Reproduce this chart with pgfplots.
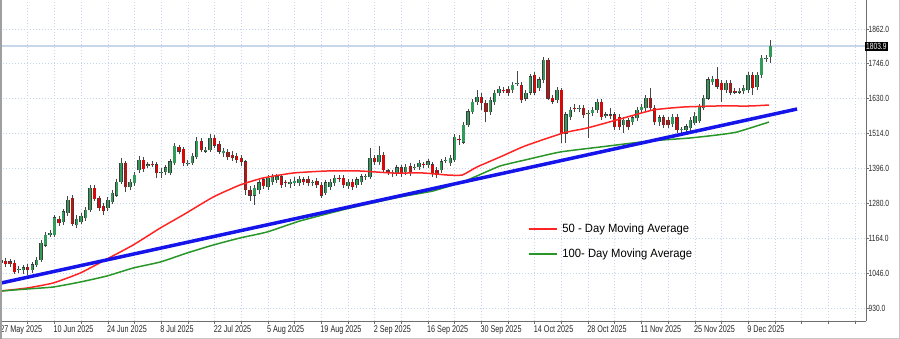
\documentclass[border=0pt]{standalone}
\usepackage{pgfplots}
\usepackage{pgfplotstable}
\pgfplotsset{compat=1.18}
\usepackage{fontspec}
\setmainfont{Liberation Sans}
\newfontfamily\tickfont[FakeStretch=0.74]{Liberation Sans}
\newfontfamily\legendfont[FakeStretch=0.94]{Liberation Sans}
\definecolor{gridblue}{RGB}{196,212,238}
\definecolor{priceline}{RGB}{200,214,234}
\definecolor{axisgray}{RGB}{110,110,110}
\definecolor{candlegreen}{RGB}{50,155,90}
\definecolor{candlered}{RGB}{210,10,10}
\definecolor{candleedge}{RGB}{60,60,60}
\definecolor{wick}{RGB}{70,70,70}
\definecolor{maRed}{RGB}{255,35,35}
\definecolor{maGreen}{RGB}{40,150,40}
\definecolor{trendBlue}{RGB}{20,20,235}

\pgfplotstableread{
x o h l c
4 1057 1070 1047 1060
5 1057 1074 1044 1064
7 1057 1084 1047 1074
8 1074 1100 1067 1090
9 1090 1157 1084 1147
10 1140 1184 1134 1174
11 1174 1191 1167 1180
12 1174 1241 1167 1231
14 1217 1261 1207 1251
15 1247 1304 1237 1291
17 1207 1241 1197 1227
18 1217 1247 1211 1237
19 1231 1267 1221 1257
20 1257 1341 1251 1331
24 1264 1301 1254 1291
25 1284 1324 1277 1314
26 1307 1361 1301 1351
27 1351 1431 1344 1414
29 1334 1361 1324 1351
30 1348 1384 1338 1374
31 1391 1438 1381 1424
33 1404 1418 1398 1408
36 1381 1398 1364 1384
37 1384 1408 1374 1398
38 1381 1428 1374 1418
39 1414 1481 1408 1471
42 1411 1424 1404 1414
43 1414 1448 1408 1438
44 1434 1501 1428 1488
46 1454 1468 1448 1458
47 1458 1511 1451 1498
50 1448 1464 1434 1454
57 1307 1341 1274 1331
58 1324 1358 1311 1348
60 1334 1374 1324 1364
61 1351 1378 1341 1368
62 1358 1378 1348 1368
65 1344 1361 1331 1351
66 1348 1368 1338 1354
67 1348 1371 1338 1361
70 1348 1358 1338 1351
73 1314 1358 1307 1348
74 1334 1361 1324 1351
75 1348 1374 1338 1364
78 1338 1361 1328 1351
80 1341 1368 1331 1358
81 1351 1378 1341 1368
82 1368 1378 1358 1371
83 1368 1464 1361 1431
85 1418 1471 1408 1441
88 1381 1391 1368 1384
89 1381 1408 1371 1398
91 1384 1411 1374 1401
93 1398 1411 1391 1401
94 1401 1424 1391 1414
96 1408 1428 1398 1418
99 1391 1428 1381 1418
100 1421 1434 1414 1424
101 1414 1441 1404 1431
102 1424 1511 1418 1501
104 1484 1551 1478 1541
105 1541 1595 1535 1585
106 1585 1628 1578 1618
107 1618 1658 1608 1635
110 1585 1635 1575 1625
111 1618 1658 1608 1648
112 1648 1671 1638 1661
115 1658 1685 1648 1675
116 1678 1722 1671 1681
118 1631 1658 1621 1648
119 1651 1712 1641 1702
121 1665 1702 1655 1692
122 1692 1768 1681 1758
125 1625 1668 1615 1658
127 1514 1585 1481 1575
128 1568 1601 1558 1591
130 1595 1608 1585 1598
132 1578 1591 1498 1581
133 1581 1601 1571 1591
134 1591 1628 1581 1618
136 1571 1585 1565 1575
140 1541 1568 1514 1558
142 1551 1575 1541 1565
143 1565 1601 1555 1591
144 1591 1611 1581 1601
145 1598 1641 1588 1631
148 1551 1575 1538 1565
151 1545 1578 1535 1568
153 1525 1535 1511 1528
154 1525 1545 1514 1535
155 1531 1568 1521 1558
156 1548 1585 1541 1571
157 1555 1611 1548 1601
158 1598 1641 1591 1631
159 1631 1702 1625 1692
160 1685 1705 1675 1695
163 1658 1692 1648 1681
166 1651 1665 1645 1655
167 1655 1675 1645 1665
168 1658 1718 1648 1708
170 1668 1718 1658 1708
171 1708 1775 1698 1765
172 1762 1775 1752 1765
173 1768 1825 1748 1803.9
}\uptable

\pgfplotstableread{
x o h l c
0 1090 1100 1070 1080
1 1087 1097 1067 1077
2 1084 1094 1067 1077
3 1080 1090 1044 1050
6 1067 1077 1040 1057
13 1227 1237 1204 1214
16 1297 1307 1204 1211
21 1331 1341 1287 1294
22 1297 1304 1254 1264
23 1271 1281 1241 1254
28 1414 1421 1318 1334
32 1424 1434 1384 1394
34 1411 1421 1401 1408
35 1408 1418 1364 1381
40 1468 1474 1444 1454
41 1461 1468 1404 1414
45 1488 1498 1451 1458
48 1498 1508 1464 1474
49 1478 1488 1444 1454
51 1451 1461 1424 1434
52 1441 1454 1421 1431
53 1438 1448 1414 1424
54 1431 1441 1404 1418
55 1418 1424 1307 1324
56 1324 1338 1287 1307
59 1358 1368 1328 1338
63 1368 1378 1331 1341
64 1351 1358 1334 1348
68 1358 1368 1341 1351
69 1361 1371 1338 1348
71 1354 1364 1331 1341
72 1341 1351 1297 1307
76 1364 1374 1351 1361
77 1364 1374 1331 1341
79 1351 1361 1324 1334
84 1431 1441 1408 1418
86 1441 1451 1381 1391
87 1388 1394 1374 1384
90 1398 1408 1368 1378
92 1404 1414 1371 1381
95 1411 1418 1398 1408
97 1408 1418 1368 1378
98 1391 1401 1364 1374
103 1494 1508 1474 1491
108 1635 1648 1591 1615
109 1615 1625 1551 1585
113 1658 1668 1648 1655
114 1661 1671 1638 1648
117 1675 1685 1615 1625
120 1708 1718 1641 1651
123 1758 1765 1625 1631
124 1631 1641 1611 1621
126 1658 1665 1481 1514
129 1598 1611 1585 1595
131 1598 1608 1565 1575
135 1618 1628 1558 1568
137 1575 1598 1561 1571
138 1575 1585 1525 1535
139 1568 1578 1525 1535
141 1555 1565 1525 1535
146 1631 1665 1588 1598
147 1598 1608 1541 1551
149 1565 1575 1531 1541
150 1558 1568 1531 1541
152 1568 1578 1514 1525
161 1695 1735 1661 1671
162 1681 1692 1618 1658
164 1681 1692 1641 1651
165 1655 1665 1645 1651
169 1708 1718 1641 1665
}\downtable

\pgfplotstableread{
x v
0 986.8
5.85 996.8
11.7 1013.5
17.8 1046.9
23.8 1093.6
29.7 1140.4
35.8 1197.2
40.9 1240.6
47.7 1300.7
53.7 1340.8
58.9 1364.2
65.7 1380.9
73.3 1387.6
80.7 1387.6
87.9 1380.9
94.9 1380.9
100.3 1374.2
103.7 1374.2
107.0 1400.9
112.2 1434.3
117.8 1471.1
126.4 1514.5
131.8 1531.2
139.2 1561.2
146.6 1591.3
153.4 1601.3
161.0 1604.7
168.4 1604.7
172.7 1608.0
}\maFifty

\pgfplotstableread{
x v
0 986.8
5.85 993.5
11.7 1000.1
17.8 1016.8
23.8 1036.9
29.7 1063.6
35.8 1083.7
41.8 1113.7
47.7 1140.4
53.7 1163.8
59.8 1183.8
67.2 1220.6
78.5 1264.0
89.7 1300.7
97.1 1320.8
103.7 1350.8
107.0 1370.9
112.2 1404.3
117.8 1424.3
125.7 1451.0
134.7 1467.7
145.9 1487.8
154.9 1497.8
161.0 1507.8
165.5 1517.8
172.7 1551.2
}\maHundred

\pgfplotsset{
  candle/.style={forget plot, draw=none, mark=none,
    error bars/.cd, y dir=plus, y explicit, error mark=none,
    error bar style={#1}},
}

\begin{document}
\begin{tikzpicture}
\path[use as bounding box] (0,0) rectangle (900bp,339bp);
\begin{axis}[
  at={(0bp,18bp)}, anchor=south west,
  scale only axis, width=866bp, height=321bp,
  xmin=-0.25, xmax=194.5, ymin=886.6, ymax=1958.7,
  axis x line*=bottom, axis y line*=right,
  axis line style={draw=axisgray, line width=0.8bp},
  xtick={0,6,...,192},
  xticklabels={27 May 2025,,10 Jun 2025,,24 Jun 2025,,8 Jul 2025,,22 Jul 2025,,5 Aug 2025,,19 Aug 2025,,2 Sep 2025,,16 Sep 2025,,30 Sep 2025,,14 Oct 2025,,28 Oct 2025,,11 Nov 2025,,25 Nov 2025,,9 Dec 2025,,,,,},
  ytick={930,1046,1164,1280,1396,1514,1630,1746,1862},
  yticklabels={930.0,1046.0,1164.0,1280.0,1396.0,1514.0,1630.0,1746.0,1862.0},
  grid=major,
  major grid style={draw=gridblue, line width=0.6bp, dash pattern=on 1.2bp off 1.8bp},
  tick align=outside, major tick length=2.5bp,
  tick style={draw=axisgray, line width=0.6bp},
  xticklabel style={font=\tickfont\fontsize{9.8}{10}\selectfont, anchor=north west, inner sep=0pt, xshift=-1bp, yshift=-2bp, text=black!85},
  yticklabel style={font=\tickfont\fontsize{9}{10}\selectfont, anchor=west, inner sep=0pt, xshift=0bp, text=black!85},
  extra y ticks={1803.9}, extra y tick labels={1803.9},
  extra y tick style={grid=major, major grid style={solid, draw=priceline, line width=2bp}, major tick length=0pt,
     yticklabel style={fill=black, text=white, inner sep=1bp, xshift=-1bp}},
  legend style={draw=none, fill=none, at={(rel axis cs:0.609,0.31)}, anchor=north west, inner sep=0pt,
     font=\legendfont\fontsize{12}{13}\selectfont, row sep=11bp, cells={anchor=west}},
  legend image code/.code={\draw[#1, line width=2.2bp] (0bp,0bp) -- (28bp,0bp); \path (31bp,0bp);},
  clip=true,
]
% wicks
\addplot[candle={line width=0.8bp, draw=wick}]
  table[x=x, y=l, y error expr=\thisrow{h}-\thisrow{l}] {\uptable};
\addplot[candle={line width=0.8bp, draw=wick}]
  table[x=x, y=l, y error expr=\thisrow{h}-\thisrow{l}] {\downtable};
% bodies: outline
\addplot[candle={line width=3.4bp, draw=candleedge, shorten <=-0.4bp, shorten >=-0.4bp}]
  table[x=x, y=o, y error expr=\thisrow{c}-\thisrow{o}] {\uptable};
\addplot[candle={line width=3.4bp, draw=candleedge, shorten <=-0.4bp, shorten >=-0.4bp}]
  table[x=x, y=c, y error expr=\thisrow{o}-\thisrow{c}] {\downtable};
% bodies: fill
\addplot[candle={line width=2.2bp, draw=candlegreen}]
  table[x=x, y=o, y error expr=\thisrow{c}-\thisrow{o}] {\uptable};
\addplot[candle={line width=2.2bp, draw=candlered}]
  table[x=x, y=c, y error expr=\thisrow{o}-\thisrow{c}] {\downtable};
% moving averages
\addplot[maRed, line width=1.5bp, mark=none, smooth, tension=0.3] table[x=x, y=v] {\maFifty};
\addlegendentry{50 - Day Moving Average}
\addplot[maGreen, line width=1.5bp, mark=none, smooth, tension=0.3] table[x=x, y=v] {\maHundred};
\addlegendentry{100- Day Moving Average}
% trend line
\addplot[forget plot, trendBlue, line width=3.5bp, mark=none] coordinates {(0,1013.5) (179,1594.6)};
\end{axis}
\draw[draw=gray!45, line width=1bp] (0,0.5bp) -- (899.5bp,0.5bp) -- (899.5bp,339bp);
\draw[draw=gray!75, line width=2bp] (1bp,0) -- (1bp,339bp);
\end{tikzpicture}
\end{document}
